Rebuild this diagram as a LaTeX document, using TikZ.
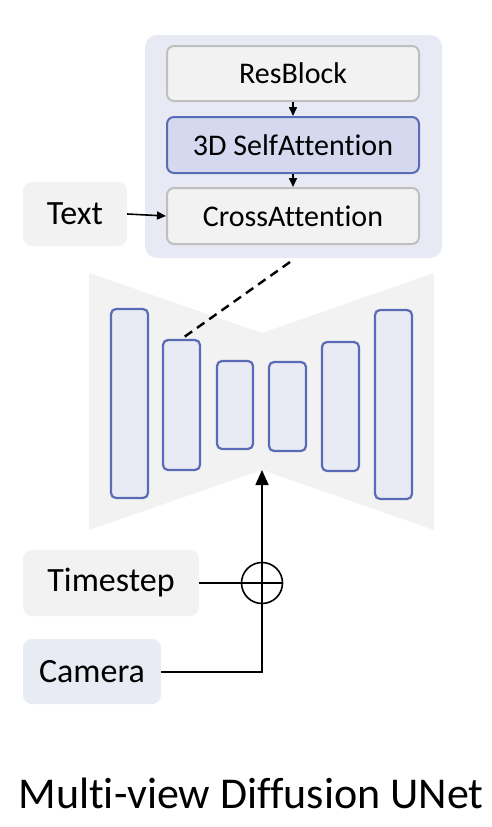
\documentclass[tikz,border=0pt]{standalone}
\usepackage{fontspec}
\setmainfont{Carlito}[Ligatures={NoCommon}]
\usepackage{xcolor}
\usepackage{tikz}
\usetikzlibrary{arrows.meta}

\definecolor{panelbg}{HTML}{E7EAF4}
\definecolor{graybg}{HTML}{F2F2F2}
\definecolor{grayline}{HTML}{BFBFBF}
\definecolor{bluebg}{HTML}{D4D9EF}
\definecolor{blueline}{HTML}{5A6BB6}
\definecolor{barbg}{HTML}{E8EAF4}

\begin{document}
\begin{tikzpicture}[x=1pt, y=-1pt,
    >={Triangle[width=8pt, length=9pt]},
    block/.style={draw=grayline, fill=graybg, line width=2pt, rounded corners=7pt, inner sep=0pt, font=\fontsize{30}{36}\selectfont},
    blockhl/.style={block, draw=blueline, fill=bluebg},
    inbox/.style={fill=graybg, rounded corners=9pt, inner sep=0pt, font=\fontsize{34}{40}\selectfont},
    bar/.style={draw=blueline, fill=barbg, line width=2.2pt, rounded corners=5pt, inner sep=0pt, minimum width=37pt},
    wire/.style={line width=1.6pt, black}]
    \useasboundingbox (0,0) rectangle (492,827);

    % Block panel
    \node[fill=panelbg, rounded corners=12pt, minimum width=297pt, minimum height=223pt, inner sep=0pt] (panel) at (293.5,146.5) {};

    % Blocks
    \node[block, minimum width=252pt, minimum height=55pt] (res) at (293,73.5) {ResBlock};
    \node[blockhl, minimum width=252pt, minimum height=56pt] (sa) at (293,145) {3D SelfAttention};
    \node[block, minimum width=252pt, minimum height=56pt] (ca) at (293,216) {CrossAttention};

    % Text input
    \node[inbox, minimum width=104pt, minimum height=64pt] (txt) at (75,214) {Text};

    % UNet outline
    \fill[graybg] (89,273) -- (262,333) -- (434,273) -- (434,530) -- (262,470) -- (89,530) -- cycle;

    % Feature bars
    \node[bar, minimum height=189pt] (b1) at (129.5,403.5) {};
    \node[bar, minimum height=130pt] (b2) at (181.5,405) {};
    \node[bar, minimum height=88pt, minimum width=36pt] (b3) at (235,405) {};
    \node[bar, minimum height=89pt] (b4) at (287.5,406.5) {};
    \node[bar, minimum height=129pt] (b5) at (340.5,406.5) {};
    \node[bar, minimum height=189pt] (b6) at (393.5,404.5) {};

    % Conditions
    \node[inbox, minimum width=176pt, minimum height=66pt] (ts) at (111,583) {Timestep};
    \node[inbox, fill=barbg, minimum width=138pt, minimum height=65pt] (cam) at (92,671.5) {Camera};
    \node[draw, circle, wire, minimum size=41pt, inner sep=0pt] (plus) at (262,583) {};
    \coordinate (neck) at (262,470);
    \coordinate (zoom) at (290,262);

    % Title
    \node[anchor=base, font=\fontsize{44}{52}\selectfont] (title) at (251,808) {Multi-view Diffusion UNet};

    % Arrows
    \draw[->, wire] (res) -- (sa);
    \draw[->, wire] (sa) -- (ca);
    \draw[->, wire] (txt.east) -- (ca.west);
    \draw[wire, dash pattern=on 9pt off 6pt, line width=2.4pt] (zoom) -- (b2.north);
    \draw[wire] (ts.east) -- (plus.east);
    \draw[wire, -{Triangle[width=13pt, length=15pt]}] (cam.east |- 0,672) -| (neck);
\end{tikzpicture}
\end{document}
